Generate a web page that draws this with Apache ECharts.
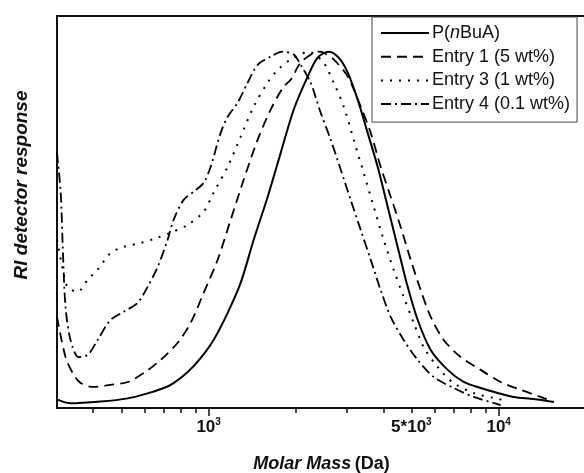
<!DOCTYPE html>
<html>
<head>
<meta charset="utf-8">
<script src="https://cdn.jsdelivr.net/npm/echarts@6/dist/echarts.min.js"></script>
<style>html,body{margin:0;padding:0;background:#fff}#c{width:584px;height:473px}</style>
</head>
<body>
<div id="c"></div>
<script>
// Molar mass (Da) vs normalised RI response
var seriesNames = ['P(nBuA)', 'Entry 1 (5 wt%)', 'Entry 3 (1 wt%)', 'Entry 4 (0.1 wt%)'];

var pnbua = [[300,0.024],[334,0.013],[424,0.018],[526,0.027],[616,0.041],[700,0.056],[757,0.070],[847,0.101],[938,0.140],[1040,0.191],[1163,0.267],[1289,0.351],[1430,0.472],[1598,0.593],[1772,0.716],[1964,0.837],[2195,0.930],[2376,0.983],[2594,1.0],[2808,0.983],[3017,0.941],[3265,0.865],[3534,0.772],[3826,0.677],[4142,0.565],[4484,0.452],[4856,0.340],[5257,0.247],[5829,0.163],[6672,0.107],[7575,0.073],[8668,0.056],[9921,0.042],[11265,0.031],[13205,0.025],[15479,0.017]];

var entry1 = [[300,0.256],[321,0.143],[340,0.098],[362,0.070],[401,0.059],[459,0.065],[526,0.073],[597,0.098],[683,0.135],[782,0.183],[867,0.239],[961,0.323],[1074,0.416],[1191,0.528],[1320,0.640],[1476,0.753],[1636,0.837],[1814,0.902],[1918,0.921],[2076,0.969],[2302,0.997],[2395,1.0],[2493,0.997],[2698,0.978],[3017,0.930],[3343,0.846],[3620,0.772],[3918,0.677],[4242,0.593],[4592,0.508],[4973,0.416],[5383,0.331],[5829,0.256],[6462,0.191],[7396,0.143],[8668,0.107],[10160,0.073],[11910,0.051],[13958,0.031],[15479,0.017]];

var entry3 = [[300,0.472],[316,0.379],[326,0.340],[353,0.326],[383,0.360],[414,0.388],[459,0.435],[509,0.452],[583,0.463],[667,0.478],[740,0.492],[847,0.514],[961,0.551],[1040,0.604],[1163,0.677],[1289,0.761],[1430,0.846],[1598,0.913],[1730,0.949],[1918,0.978],[2076,0.992],[2195,1.0],[2302,0.994],[2493,0.969],[2698,0.913],[2922,0.846],[3162,0.753],[3424,0.660],[3707,0.565],[4012,0.472],[4344,0.388],[4703,0.312],[5093,0.239],[5513,0.171],[6163,0.115],[6996,0.070],[8202,0.042],[9612,0.028],[10740,0.020]];

var entry4 = [[300,0.716],[309,0.604],[314,0.452],[321,0.284],[334,0.191],[356,0.143],[383,0.149],[414,0.191],[459,0.247],[509,0.270],[569,0.295],[616,0.340],[667,0.396],[722,0.472],[757,0.528],[820,0.584],[888,0.607],[961,0.632],[1016,0.677],[1100,0.772],[1163,0.817],[1259,0.857],[1363,0.913],[1476,0.963],[1636,0.986],[1800,1.0],[1964,0.992],[2076,0.963],[2247,0.913],[2433,0.829],[2635,0.753],[2853,0.669],[3088,0.584],[3343,0.500],[3620,0.416],[3918,0.331],[4242,0.256],[4703,0.191],[5257,0.135],[5969,0.087],[6996,0.056],[8202,0.031],[9612,0.014],[10160,0.008]];

var majorTicks = [1000, 10000];
var minorTicks = [400,500,600,700,800,900,2000,3000,4000,5000,6000,7000,8000,9000];
var tickLabels = [1000, 5000, 10000];
var labelText = {1000: '{n|10}{s|3}', 5000: '{n|5*10}{s|3}', 10000: '{n|10}{s|4}'};

var chart = echarts.init(document.getElementById('c'));
var F = '"Liberation Sans", Arial, sans-serif';
var common = {type: 'log', logBase: 10, min: 300, max: 20000, gridIndex: 0, position: 'bottom',
  splitLine: {show: false}, axisLine: {show: true, lineStyle: {color: '#111', width: 2}}};
chart.setOption({
  animation: false,
  backgroundColor: '#fff',
  grid: {left: 57, top: 16, right: -2, bottom: 65, show: false, containLabel: false, outerBoundsMode: 'none'},
  legend: {
    orient: 'vertical', left: 372, top: 17,
    itemWidth: 48, itemHeight: 18, itemGap: 5.7,
    padding: [7, 7, 9, 8],
    borderColor: '#444', borderWidth: 1, backgroundColor: '#fff',
    itemStyle: {opacity: 0},
    textStyle: {fontFamily: F, fontSize: 18, color: '#111', padding: [0, 0, 0, -2],
      rich: {it: {fontFamily: F, fontSize: 18, fontStyle: 'italic', color: '#111'}}},
    formatter: function (n) { return n === 'P(nBuA)' ? 'P({it|n}BuA)' : n; },
    data: seriesNames
  },
  xAxis: [
    Object.assign({}, common, {
      name: '{i|Molar Mass} {b|(Da)}', nameLocation: 'middle', nameGap: 47,
      nameTextStyle: {rich: {
        i: {fontFamily: F, fontSize: 18, fontWeight: 'bold', fontStyle: 'italic', color: '#111'},
        b: {fontFamily: F, fontSize: 18, fontWeight: 'bold', color: '#111'}}},
      axisTick: {show: true, inside: false, length: 8, lineStyle: {color: '#111', width: 1.5}, customValues: majorTicks},
      axisLabel: {show: true, margin: 9, customValues: tickLabels,
        formatter: function (v) { return labelText[Math.round(v)] || ''; },
        rich: {
          n: {fontFamily: F, fontSize: 17, fontWeight: 'bold', color: '#111'},
          s: {fontFamily: F, fontSize: 10, fontWeight: 'bold', color: '#111', padding: [0, 0, 11, 0]}
        }}
    }),
    Object.assign({}, common, {
      axisTick: {show: true, inside: false, length: 5, lineStyle: {color: '#111', width: 1.5}, customValues: minorTicks},
      axisLabel: {show: false}
    }),
    Object.assign({}, common, {
      position: 'top',
      axisTick: {show: false}, axisLabel: {show: false}
    })
  ],
  yAxis: {
    type: 'value', min: 0, max: 1.1,
    name: 'RI detector response', nameLocation: 'middle', nameGap: 26,
    nameTextStyle: {fontFamily: F, fontSize: 19, fontWeight: 'bold', fontStyle: 'italic', color: '#111', padding: [0, 0, 0, 54]},
    axisLine: {show: true, lineStyle: {color: '#111', width: 2}},
    axisTick: {show: false}, axisLabel: {show: false}, splitLine: {show: false}
  },
  series: [
    {name: seriesNames[0], type: 'line', data: pnbua, smooth: 0.3, showSymbol: false, symbol: 'none',
      lineStyle: {color: '#000', width: 2, type: 'solid'}, itemStyle: {color: '#000'}},
    {name: seriesNames[1], type: 'line', data: entry1, smooth: 0.3, showSymbol: false, symbol: 'none',
      lineStyle: {color: '#000', width: 1.8, type: [10, 6]}, itemStyle: {color: '#000'}},
    {name: seriesNames[2], type: 'line', data: entry3, smooth: 0.3, showSymbol: false, symbol: 'none',
      lineStyle: {color: '#000', width: 2, type: [2, 7]}, itemStyle: {color: '#000'}},
    {name: seriesNames[3], type: 'line', data: entry4, smooth: 0.3, showSymbol: false, symbol: 'none',
      lineStyle: {color: '#000', width: 1.8, type: [10, 4, 2, 4]}, itemStyle: {color: '#000'}}
  ]
});
</script>
</body>
</html>
